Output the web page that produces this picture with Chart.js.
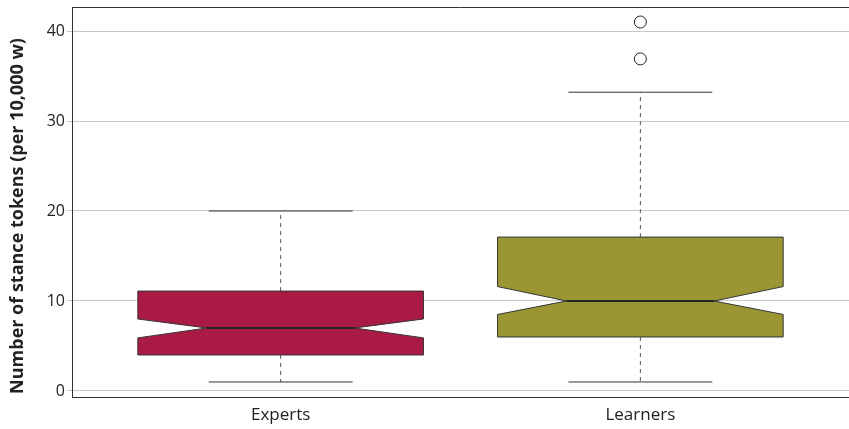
<!DOCTYPE html>
<html>
<head>
<meta charset="utf-8">
<script src="https://cdn.jsdelivr.net/npm/chart.js@4.4.1/dist/chart.umd.min.js"></script>
<style>
  html, body { margin: 0; padding: 0; background: #fff; }
  #wrap { width: 849px; height: 429px; }
</style>
</head>
<body>
<div id="wrap"><canvas id="boxChart"></canvas></div>
<script>
// Box plot data
const categories = ['Experts', 'Learners'];
const whiskerLow = [1, 1];
const q1 = [4, 6];
const median = [7, 10];
const q3 = [11.1, 17.1];
const whiskerHigh = [20, 33.2];
const notchLow = [5.9, 8.5];
const notchHigh = [8.0, 11.6];
const outliers = [[], [36.9, 41.0]];
const yTicks = [0, 10, 20, 30, 40];
const boxColors = ['#A91B45', '#9A9634'];

const fontFamily = '"Open Sans", "Noto Sans", sans-serif';

// outlier points as scatter data
const outlierPoints = [];
outliers.forEach((vals, i) => {
    vals.forEach(v => outlierPoints.push({ x: i + 1, y: v }));
});

// draws the notched boxes with the chart's own scales
const boxPlotPlugin = {
    id: 'boxPlot',
    beforeDatasetsDraw(chart) {
        const ctx = chart.ctx;
        const xs = chart.scales.x;
        const ys = chart.scales.y;
        const boxHalf = 0.397;
        const notchHalf = 0.205;
        const capHalf = 0.2;

        categories.forEach((cat, i) => {
            const c = i + 1;
            const xc = xs.getPixelForValue(c);
            const xl = xs.getPixelForValue(c - boxHalf);
            const xr = xs.getPixelForValue(c + boxHalf);
            const nl = xs.getPixelForValue(c - notchHalf);
            const nr = xs.getPixelForValue(c + notchHalf);
            const cl = xs.getPixelForValue(c - capHalf);
            const cr = xs.getPixelForValue(c + capHalf);
            const yQ1 = ys.getPixelForValue(q1[i]);
            const yQ3 = ys.getPixelForValue(q3[i]);
            const yMed = ys.getPixelForValue(median[i]);
            const yNl = ys.getPixelForValue(notchLow[i]);
            const yNh = ys.getPixelForValue(notchHigh[i]);
            const yWl = ys.getPixelForValue(whiskerLow[i]);
            const yWh = ys.getPixelForValue(whiskerHigh[i]);

            ctx.save();
            // whiskers
            ctx.strokeStyle = '#555';
            ctx.lineWidth = 1;
            ctx.setLineDash([4, 4]);
            ctx.beginPath();
            ctx.moveTo(xc, yQ3);
            ctx.lineTo(xc, yWh);
            ctx.moveTo(xc, yQ1);
            ctx.lineTo(xc, yWl);
            ctx.stroke();
            ctx.setLineDash([]);
            ctx.strokeStyle = '#333';
            ctx.beginPath();
            ctx.moveTo(cl, yWh);
            ctx.lineTo(cr, yWh);
            ctx.moveTo(cl, yWl);
            ctx.lineTo(cr, yWl);
            ctx.stroke();

            // notched box
            ctx.beginPath();
            ctx.moveTo(xl, yQ3);
            ctx.lineTo(xr, yQ3);
            ctx.lineTo(xr, yNh);
            ctx.lineTo(nr, yMed);
            ctx.lineTo(xr, yNl);
            ctx.lineTo(xr, yQ1);
            ctx.lineTo(xl, yQ1);
            ctx.lineTo(xl, yNl);
            ctx.lineTo(nl, yMed);
            ctx.lineTo(xl, yNh);
            ctx.closePath();
            ctx.fillStyle = boxColors[i];
            ctx.fill();
            ctx.strokeStyle = '#333';
            ctx.lineWidth = 1;
            ctx.stroke();

            // median
            ctx.strokeStyle = '#222';
            ctx.lineWidth = 2;
            ctx.beginPath();
            ctx.moveTo(nl, yMed);
            ctx.lineTo(nr, yMed);
            ctx.stroke();
            ctx.restore();
        });
    },
    afterDraw(chart) {
        const ctx = chart.ctx;
        const area = chart.chartArea;
        ctx.save();
        // top frame line
        ctx.strokeStyle = '#333';
        ctx.lineWidth = 1;
        ctx.beginPath();
        ctx.moveTo(area.left, area.top + 0.5);
        ctx.lineTo(area.right, area.top + 0.5);
        ctx.stroke();
        // y axis title
        ctx.translate(18, 216);
        ctx.rotate(-Math.PI / 2);
        ctx.fillStyle = '#222';
        ctx.font = 'bold 18px ' + fontFamily;
        ctx.textAlign = 'center';
        ctx.textBaseline = 'middle';
        ctx.fillText('Number of stance tokens (per 10,000 w)', 0, 0);
        ctx.restore();
    }
};

const ctx = document.getElementById('boxChart').getContext('2d');
const boxChart = new Chart(ctx, {
    type: 'scatter',
    data: {
        datasets: [{
            label: 'Outliers',
            data: outlierPoints,
            pointStyle: 'circle',
            pointRadius: 6,
            pointBackgroundColor: '#fff',
            pointBorderColor: '#222',
            pointBorderWidth: 1
        }]
    },
    options: {
        responsive: true,
        maintainAspectRatio: false,
        animation: false,
        layout: { autoPadding: false, padding: { top: 7, right: 0, left: 0, bottom: 0 } },
        plugins: {
            legend: { display: false },
            tooltip: { enabled: false }
        },
        scales: {
            x: {
                type: 'linear',
                min: 0.42,
                max: 2.58,
                afterBuildTicks: scale => {
                    scale.ticks = categories.map((c, i) => ({ value: i + 1 }));
                },
                afterFit: scale => {
                    scale.height = 32;
                    scale.paddingLeft = 0;
                    scale.paddingRight = 0;
                },
                grid: { display: false, drawTicks: false },
                border: { display: true, color: '#333', width: 1 },
                ticks: {
                    callback: v => categories[v - 1] || '',
                    color: '#222',
                    padding: 8,
                    maxRotation: 0,
                    font: { family: fontFamily, size: 17 }
                }
            },
            y: {
                min: -0.67,
                max: 42.67,
                afterBuildTicks: scale => {
                    scale.ticks = yTicks.map(v => ({ value: v }));
                },
                afterFit: scale => {
                    scale.width = 72;
                    scale.paddingTop = 0;
                    scale.paddingBottom = 0;
                },
                grid: { color: '#c8c8c8', lineWidth: 1, drawTicks: true, tickLength: 5 },
                border: { display: true, color: '#333', width: 1 },
                ticks: {
                    color: '#222',
                    padding: 2,
                    font: { family: fontFamily, size: 16 }
                }
            }
        }
    },
    plugins: [boxPlotPlugin]
});
</script>
</body>
</html>
